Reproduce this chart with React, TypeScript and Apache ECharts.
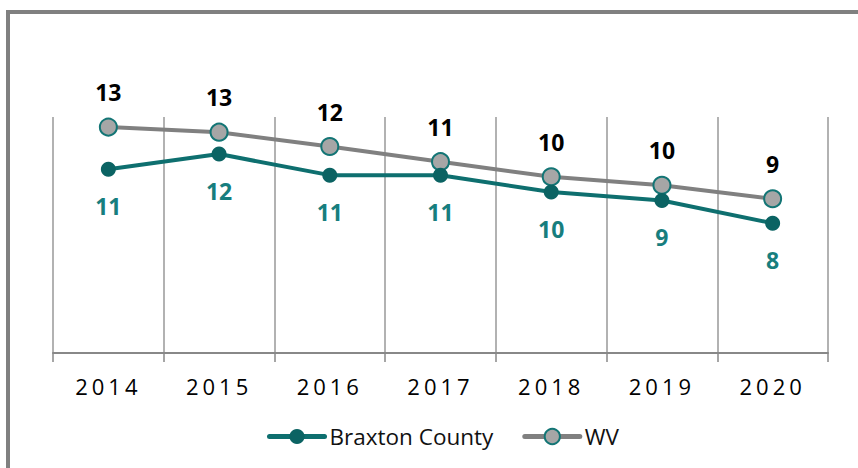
import React, { useEffect, useRef } from "react";
import * as echarts from "echarts";

const years = ["2014", "2015", "2016", "2017", "2018", "2019", "2020"];
const braxton = [10.9, 11.8, 10.55, 10.55, 9.55, 9.05, 7.7];
const wv = [13.4, 13.1, 12.25, 11.35, 10.45, 9.95, 9.15];
const seriesNames = ["Braxton County", "WV"];

const FONT = "'Open Sans', 'Liberation Sans', sans-serif";
const AXIS_LABEL_COLOR = "#010101";

export default function App() {
  const ref = useRef<HTMLDivElement>(null);
  useEffect(() => {
    if (!ref.current) return;
    const chart = echarts.init(ref.current, undefined, { renderer: "svg" });
    chart.setOption({
      animation: false,
      backgroundColor: "#ffffff",
      textStyle: { fontFamily: FONT },
      graphic: [
        {
          type: "rect",
          shape: { x: 8, y: 12, width: 900, height: 500 },
          style: { fill: "none", stroke: "#808080", lineWidth: 4 },
          silent: true,
        },
      ],
      grid: { left: 53, right: 30, top: 117, bottom: 115 },
      legend: {
        left: 262,
        top: 420,
        itemWidth: 55,
        itemHeight: 19,
        itemGap: 29,
        lineStyle: { width: 5, cap: "round" },
        textStyle: { fontSize: 22.5, color: "#111", fontFamily: FONT },
        data: seriesNames,
      },
      xAxis: {
        type: "category",
        data: years,
        boundaryGap: true,
        axisLine: { show: true, lineStyle: { color: "#888", width: 2 } },
        axisTick: { show: true, length: 9, lineStyle: { color: "#888", width: 1.5 } },
        splitLine: { show: true, lineStyle: { color: "#999", width: 1.5 } },
        axisLabel: { fontSize: 22, color: AXIS_LABEL_COLOR, margin: 22, fontFamily: FONT },
      },
      yAxis: {
        type: "value",
        min: 0,
        max: 14,
        show: false,
        splitLine: { show: false },
      },
      series: [
        {
          name: seriesNames[0],
          type: "line",
          data: braxton,
          symbol: "circle",
          symbolSize: 15,
          lineStyle: { color: "#0E6F6F", width: 4 },
          itemStyle: { color: "#0B6363" },
          label: {
            show: true,
            position: "bottom",
            distance: 18,
            color: "#177E7E",
            fontWeight: "bold",
            fontSize: 23,
            fontFamily: FONT,
            formatter: (p: any) => String(Math.round(p.value)),
          },
          z: 3,
        },
        {
          name: seriesNames[1],
          type: "line",
          data: wv,
          symbol: "circle",
          symbolSize: 17,
          lineStyle: { color: "#808080", width: 4 },
          itemStyle: { color: "#A6A6A6", borderColor: "#137575", borderWidth: 2 },
          label: {
            show: true,
            position: "top",
            distance: 14,
            color: "#000",
            fontWeight: "bold",
            fontSize: 23,
            fontFamily: FONT,
            formatter: (p: any) => String(Math.round(p.value)),
          },
          z: 2,
        },
      ],
    });
    return () => chart.dispose();
  }, []);
  return (
    <>
      <style>{`text[fill="${AXIS_LABEL_COLOR}"] { letter-spacing: 4px; }`}</style>
      <div
        ref={ref}
        style={{ position: "fixed", left: 0, top: 0, width: 858, height: 468, background: "#fff" }}
      />
    </>
  );
}
